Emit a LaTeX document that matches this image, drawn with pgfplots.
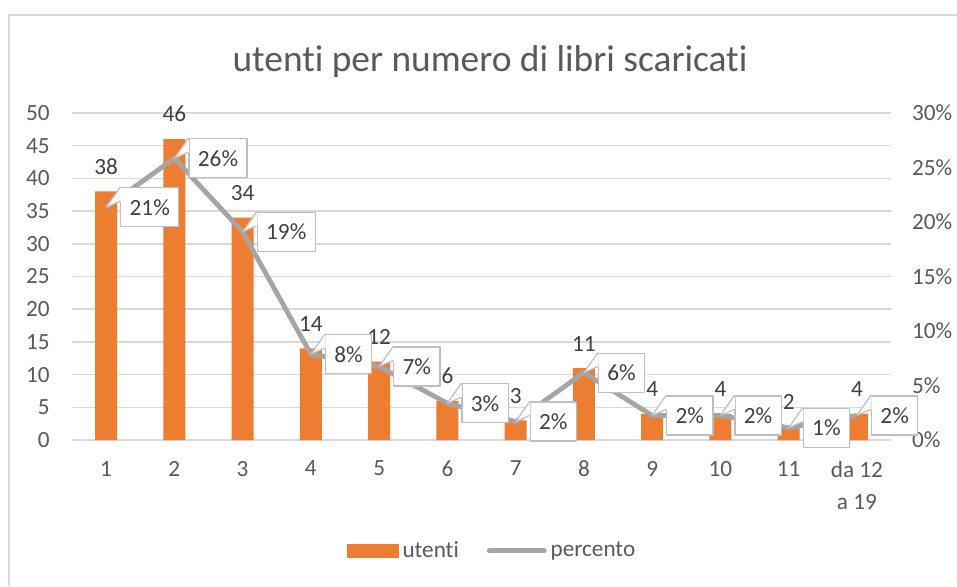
\documentclass[border=0pt]{standalone}
\usepackage{fontspec}
\setmainfont{Carlito}[Ligatures={NoCommon}]
\usepackage{pgfplots}
\pgfplotsset{compat=1.18}
\definecolor{barc}{HTML}{ED7D31}
\definecolor{linc}{HTML}{A5A5A5}
\definecolor{grd}{HTML}{D9D9D9}
\definecolor{txt}{HTML}{595959}
\definecolor{dtxt}{HTML}{404040}
\definecolor{boxc}{HTML}{BFBFBF}
\newcommand\tf{\fontsize{11.6}{16}\selectfont}
\begin{document}
\begin{tikzpicture}
\useasboundingbox (0,0) rectangle (478.5pt,293pt);
\fill[white] (0,0) rectangle (478.5pt,293pt);
\draw[grd, line width=1pt] (4.5pt,0) -- (4.5pt,285.5pt) -- (478.5pt,285.5pt);
\node[font=\fontsize{18.7}{22}\selectfont, text=txt] at (245pt,262pt) {utenti per numero di libri scaricati};
\begin{axis}[
  at={(36pt,73pt)}, anchor=south west, scale only axis,
  width=409.5pt, height=163.5pt,
  xmin=-0.5, xmax=11.5, ymin=0, ymax=50,
  xtick={0,...,11},
  xticklabels={1,2,3,4,5,6,7,8,9,10,11,{da 12\\a 19}},
  ytick={0,5,...,50},
  major tick length=0pt,
  axis line style={draw=none},
  ymajorgrids, grid style={grd, line width=0.75pt},
  tick label style={font=\tf, text=txt},
  xticklabel style={align=center, yshift=-7pt},
  yticklabel style={xshift=-7.7pt},
  /pgf/number format/assume math mode=true,
  ybar, bar width=11pt,
  nodes near coords,
  nodes near coords style={font=\tf, text=dtxt, yshift=5pt},
  clip=false,
]
\addplot[fill=barc, draw=none] coordinates {
(0,38) (1,46) (2,34) (3,14) (4,12) (5,6) (6,3) (7,11) (8,4) (9,4) (10,2) (11,4)};
\end{axis}
\begin{axis}[
  at={(36pt,73pt)}, anchor=south west, scale only axis,
  width=409.5pt, height=163.5pt,
  xmin=-0.5, xmax=11.5, ymin=0, ymax=0.3,
  axis x line=none, axis y line*=right,
  axis line style={draw=none},
  ytick={0,0.05,0.1,0.15,0.2,0.25,0.3},
  yticklabels={0\%,5\%,10\%,15\%,20\%,25\%,30\%},
  major tick length=0pt,
  tick label style={font=\tf, text=txt},
  yticklabel style={xshift=7pt},
  clip=false,
  legend style={at={(0.514,-0.339)}, anchor=center, draw=none, fill=none,
    font=\tf, text=txt, legend columns=2,
    /tikz/every even column/.append style={column sep=12pt}},
]
\addlegendimage{legend image code/.code={\fill[barc] (-2.5pt,-3.25pt) rectangle (23pt,3.25pt);}}
\addlegendentry{utenti}
\addplot[linc, line width=2.4pt, line join=round,
  legend image code/.code={\draw[linc, line width=2.4pt, line cap=round] (-1pt,0pt) -- (26.5pt,0pt);},
  point meta=explicit symbolic, nodes near coords,
  nodes near coords style={anchor=west, xshift=7pt, draw=boxc, fill=white,
    line width=0.6pt, font=\tf, text=dtxt, inner xsep=4.5pt, minimum height=19.5pt, name=cc,
    append after command={
      ([xshift=0.4pt,yshift=-0.4pt]cc.north west) edge[draw=none, fill=white,
        to path={-- ([xshift=0.4pt,yshift=-7pt]cc.north west) -- ([xshift=-7pt]cc.west) -- cycle}] (cc.west)
      ([xshift=-7pt]cc.west) edge[draw=boxc, line width=0.6pt] (cc.north west)
      ([xshift=-7pt]cc.west) edge[draw=boxc, line width=0.6pt] ([yshift=-7pt]cc.north west)
    }},
] coordinates {
(0,0.2135) [21\%]
(1,0.2584) [26\%]
(2,0.1910) [19\%]
(3,0.0787) [8\%]
(4,0.0674) [7\%]
(5,0.0337) [3\%]
(6,0.0169) [2\%]
(7,0.0618) [6\%]
(8,0.0225) [2\%]
(9,0.0225) [2\%]
(10,0.0112) [1\%]
(11,0.0225) [2\%]
};
\addlegendentry{percento}
\end{axis}
\end{tikzpicture}
\end{document}
